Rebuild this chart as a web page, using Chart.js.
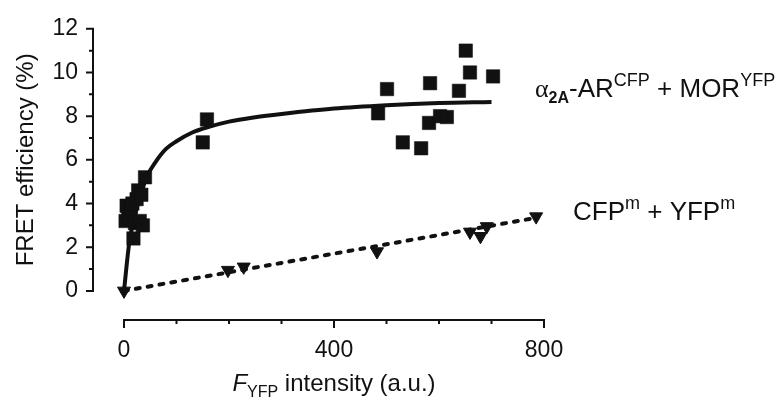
<!DOCTYPE html>
<html>
<head>
<meta charset="utf-8">
<script src="https://cdn.jsdelivr.net/npm/chart.js@4.4.0/dist/chart.umd.min.js"></script>
<style>
  html, body { margin: 0; padding: 0; background: #fff; }
  #grafico { display: block; }
</style>
</head>
<body>
<canvas id="grafico" width="776" height="400"></canvas>
<script>
/* ===================== DATOS ===================== */
// alpha2A-AR(CFP) + MOR(YFP), cuadrados
const cuadX = [3, 5, 8, 10, 13, 16, 18, 21, 24, 27, 30, 33, 36, 40, 150, 158,
  484, 501, 531, 566, 581, 583, 602, 615, 638, 651, 659, 703];
const cuadY = [3.2, 3.9, 3.6, 3.3, 3.8, 4.0, 2.4, 3.1, 4.2, 4.6, 3.2, 4.4, 3.0, 5.2, 6.8, 7.85,
  8.13, 9.24, 6.8, 6.53, 7.69, 9.51, 8.0, 7.96, 9.16, 11.0, 10.0, 9.82];

// CFPm + YFPm, triangulos
const triX = [0, 198, 228, 482, 659, 679, 691, 785];
const triY = [0, 0.95, 1.1, 1.8, 2.7, 2.5, 2.95, 3.4];

// curva de ajuste
const curvaX = [0, 10, 20, 30, 45, 60, 80, 100, 130, 160, 200, 250, 300, 400, 500, 600, 700];
const curvaY = [0, 2.2, 3.4, 4.3, 5.3, 5.9, 6.5, 6.85, 7.25, 7.5, 7.75, 7.95, 8.1, 8.35, 8.5, 8.6, 8.65];

// recta de ajuste (punteada)
const rectaX = [0, 788];
const rectaY = [0, 3.36];

const ticksX = [0, 400, 800];
const ticksY = [0, 2, 4, 6, 8, 10, 12];

const NEGRO = "#111111";
const FUENTE = "'Liberation Sans', Arial, Helvetica, sans-serif";

/* ===================== UTIL ===================== */
const pares = (xs, ys) => xs.map((x, i) => ({ x: x, y: ys[i] }));

// texto con sub/superindices
function textoRico(ctx, partes, x, y) {
  let cx = x;
  partes.forEach((p) => {
    ctx.font = p.font;
    ctx.fillText(p.t, cx, y + (p.dy || 0));
    cx += ctx.measureText(p.t).width;
  });
  return cx - x;
}
function anchoRico(ctx, partes) {
  let w = 0;
  partes.forEach((p) => {
    ctx.font = p.font;
    w += ctx.measureText(p.t).width;
  });
  return w;
}

/* ===================== EJES Y ETIQUETAS ===================== */
const ejesPlugin = {
  id: "ejes",
  afterDraw(chart) {
    const ctx = chart.ctx;
    const sx = chart.scales.x;
    const sy = chart.scales.y;
    const area = chart.chartArea;
    ctx.save();
    ctx.strokeStyle = NEGRO;
    ctx.fillStyle = NEGRO;
    ctx.lineWidth = 2;
    ctx.lineCap = "butt";

    // eje Y
    const ax = area.left;
    ctx.beginPath();
    ctx.moveTo(ax, sy.getPixelForValue(0) + 1);
    ctx.lineTo(ax, sy.getPixelForValue(12) - 1);
    for (let v = 0; v <= 12; v++) {
      const py = sy.getPixelForValue(v);
      ctx.moveTo(ax, py);
      ctx.lineTo(ax - (v % 2 === 0 ? 7 : 4), py);
    }
    ctx.stroke();

    // eje X
    const ay = area.bottom;
    ctx.beginPath();
    ctx.moveTo(sx.getPixelForValue(0) - 1, ay);
    ctx.lineTo(sx.getPixelForValue(800) + 1, ay);
    for (let v = 0; v <= 800; v += 100) {
      const px = sx.getPixelForValue(v);
      ctx.moveTo(px, ay);
      ctx.lineTo(px, ay + (v % 400 === 0 ? 8 : 4));
    }
    ctx.stroke();

    // titulo eje Y
    ctx.save();
    ctx.translate(33, sy.getPixelForValue(6));
    ctx.rotate(-Math.PI / 2);
    ctx.textAlign = "center";
    ctx.textBaseline = "alphabetic";
    ctx.font = "24px " + FUENTE;
    ctx.fillText("FRET efficiency (%)", 0, 0);
    ctx.restore();

    ctx.textAlign = "left";
    ctx.textBaseline = "alphabetic";

    // titulo eje X
    const tituloX = [
      { t: "F", font: "italic 24px " + FUENTE },
      { t: "YFP", font: "16px " + FUENTE, dy: 6 },
      { t: " intensity (a.u.)", font: "24px " + FUENTE },
    ];
    const wx = anchoRico(ctx, tituloX);
    textoRico(ctx, tituloX, sx.getPixelForValue(400) - wx / 2, 391);

    // etiquetas de series
    textoRico(ctx, [
      { t: "\u03b1", font: "26px 'Liberation Serif', serif" },
      { t: "2A", font: "bold 16px " + FUENTE, dy: 6 },
      { t: "-AR", font: "26px " + FUENTE },
      { t: "CFP", font: "18px " + FUENTE, dy: -11 },
      { t: " + MOR", font: "26px " + FUENTE },
      { t: "YFP", font: "18px " + FUENTE, dy: -11 },
    ], 535, 97);

    textoRico(ctx, [
      { t: "CFP", font: "26px " + FUENTE },
      { t: "m", font: "18px " + FUENTE, dy: -11 },
      { t: " + YFP", font: "26px " + FUENTE },
      { t: "m", font: "18px " + FUENTE, dy: -11 },
    ], 573, 220);

    ctx.restore();
  },
};

/* ===================== GRAFICO ===================== */
new Chart(document.getElementById("grafico"), {
  type: "scatter",
  data: {
    datasets: [
      {
        label: "a2A-AR CFP + MOR YFP",
        data: pares(cuadX, cuadY),
        pointStyle: "rect",
        pointRadius: 9.5,
        pointBackgroundColor: NEGRO,
        pointBorderColor: NEGRO,
        pointBorderWidth: 0.5,
        order: 0,
        clip: false,
      },
      {
        label: "CFPm + YFPm",
        data: pares(triX, triY),
        pointStyle: "triangle",
        pointRotation: 180,
        pointRadius: 7.5,
        pointBackgroundColor: NEGRO,
        pointBorderColor: NEGRO,
        pointBorderWidth: 1,
        order: 0,
        clip: false,
      },
      {
        label: "ajuste",
        data: pares(curvaX, curvaY),
        showLine: true,
        cubicInterpolationMode: "monotone",
        borderColor: NEGRO,
        borderWidth: 4,
        pointRadius: 0,
        order: 1,
        clip: false,
      },
      {
        label: "recta",
        data: pares(rectaX, rectaY),
        showLine: true,
        borderColor: NEGRO,
        borderWidth: 4,
        borderDash: [4, 8],
        borderCapStyle: "round",
        pointRadius: 0,
        order: 1,
        clip: false,
      },
    ],
  },
  plugins: [ejesPlugin],
  options: {
    responsive: false,
    animation: false,
    devicePixelRatio: 1,
    layout: { padding: { left: 0, top: 20, right: 232, bottom: 0 } },
    plugins: {
      legend: { display: false },
      tooltip: { enabled: false },
    },
    scales: {
      x: {
        type: "linear",
        min: -59.05,
        max: 800,
        grid: { display: false, drawTicks: false },
        border: { display: false },
        afterBuildTicks: (s) => { s.ticks = ticksX.map((v) => ({ value: v })); },
        afterFit: (s) => { s.height = 80; },
        ticks: {
          color: NEGRO,
          font: { family: FUENTE, size: 23 },
          padding: 17,
          maxRotation: 0,
          autoSkip: false,
        },
      },
      y: {
        type: "linear",
        min: -1.3333,
        max: 12,
        grid: { display: false, drawTicks: false },
        border: { display: false },
        afterBuildTicks: (s) => { s.ticks = ticksY.map((v) => ({ value: v })); },
        afterFit: (s) => { s.width = 93; },
        ticks: {
          color: NEGRO,
          font: { family: FUENTE, size: 23 },
          padding: 15,
        },
      },
    },
  },
});
</script>
</body>
</html>
